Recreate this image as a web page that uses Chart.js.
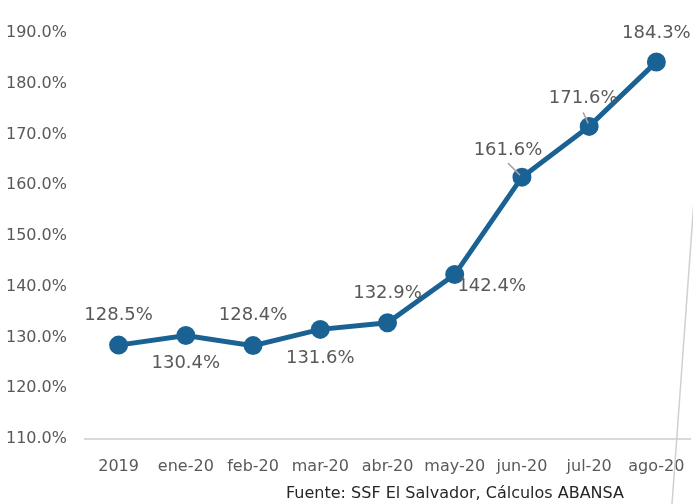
<!DOCTYPE html>
<html>
<head>
<meta charset="utf-8">
<script src="https://cdn.jsdelivr.net/npm/chart.js@4.4.0/dist/chart.umd.min.js"></script>
<style>
  html, body { margin: 0; padding: 0; background: #fff; }
  #wrap { width: 693px; height: 504px; position: relative; }
</style>
</head>
<body>
<div id="wrap"><canvas id="ratioChart"></canvas></div>
<script>
// datos
const categories = ['2019', 'ene-20', 'feb-20', 'mar-20', 'abr-20', 'may-20', 'jun-20', 'jul-20', 'ago-20'];
const ratioValues = [128.5, 130.4, 128.4, 131.6, 132.9, 142.4, 161.6, 171.6, 184.3];
const yTicks = [110, 120, 130, 140, 150, 160, 170, 180, 190];
const sourceText = 'Fuente: SSF El Salvador, Cálculos ABANSA';

const FONT = '"DejaVu Sans", sans-serif';

// posicion de cada etiqueta respecto a su punto
const labelOffsets = [[0, -30], [0, 28], [0, -30], [0, 29], [0, -29], [37, 12], [-14, -27], [-6, -28], [0, -29]];
const leaders = { 6: [[-14, -14], [-2, -2]], 7: [[-6, -14], [-1, -3]] };

const labelPlugin = {
    id: 'labels',
    afterDatasetsDraw(chart) {
        const ctx = chart.ctx;
        const meta = chart.getDatasetMeta(0);
        ctx.save();
        // lineas guia
        ctx.strokeStyle = '#a6a6a6';
        ctx.lineWidth = 1.5;
        Object.keys(leaders).forEach(k => {
            const p = meta.data[k];
            const l = leaders[k];
            ctx.beginPath();
            ctx.moveTo(p.x + l[0][0], p.y + l[0][1]);
            ctx.lineTo(p.x + l[1][0], p.y + l[1][1]);
            ctx.stroke();
        });
        ctx.font = '18px ' + FONT;
        ctx.fillStyle = '#595959';
        ctx.textAlign = 'center';
        ctx.textBaseline = 'middle';
        meta.data.forEach((p, i) => {
            const o = labelOffsets[i];
            ctx.fillText(ratioValues[i].toFixed(1) + '%', p.x + o[0], p.y + o[1]);
        });
        ctx.restore();
    },
    afterDraw(chart) {
        const ctx = chart.ctx;
        ctx.save();
        ctx.font = '16px ' + FONT;
        ctx.fillStyle = '#262626';
        ctx.textAlign = 'center';
        ctx.textBaseline = 'middle';
        ctx.fillText(sourceText, 455, 494);
        // borde del cuadro a la derecha
        ctx.strokeStyle = '#d0d0d0';
        ctx.lineWidth = 1.5;
        ctx.beginPath();
        ctx.moveTo(694, 200);
        ctx.lineTo(672, 504);
        ctx.stroke();
        ctx.restore();
    }
};

const ctx = document.getElementById('ratioChart').getContext('2d');
new Chart(ctx, {
    type: 'line',
    data: {
        labels: categories,
        datasets: [{
            data: ratioValues,
            borderColor: '#1b6294',
            backgroundColor: '#1b6294',
            borderWidth: 5,
            pointRadius: 7,
            pointHoverRadius: 7,
            tension: 0,
            clip: false
        }]
    },
    options: {
        responsive: true,
        maintainAspectRatio: false,
        animation: false,
        layout: { autoPadding: false, padding: { top: 33, right: 3, left: 0, bottom: 0 } },
        scales: {
            x: {
                offset: true,
                grid: { display: false },
                border: { display: true, color: '#d9d9d9', width: 2 },
                ticks: { color: '#595959', font: { family: FONT, size: 16 }, padding: 10, maxRotation: 0, autoSkip: false },
                afterFit(axis) {
                    axis.height = 65;
                    axis.paddingLeft = 0;
                    axis.paddingRight = 0;
                }
            },
            y: {
                min: 110,
                max: 190,
                afterBuildTicks(axis) { axis.ticks = yTicks.map(v => ({ value: v })); },
                grid: { display: false },
                border: { display: false },
                ticks: {
                    color: '#595959',
                    font: { family: FONT, size: 16 },
                    padding: 10,
                    callback: v => v.toFixed(1) + '%'
                },
                afterFit(axis) { axis.width = 85; }
            }
        },
        plugins: {
            legend: { display: false },
            tooltip: { enabled: false }
        }
    },
    plugins: [labelPlugin]
});
</script>
</body>
</html>
